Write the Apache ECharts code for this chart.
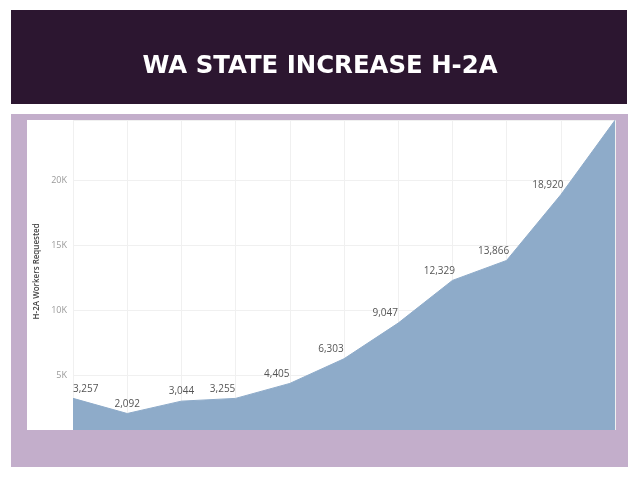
<!DOCTYPE html>
<html>
<head>
<meta charset="utf-8">
<script src="https://cdn.jsdelivr.net/npm/echarts@6/dist/echarts.min.js"></script>
<style>
html,body{margin:0;padding:0;background:#ffffff;}
#chart{width:640px;height:480px;}
</style>
</head>
<body>
<div id="chart"></div>
<script>
var titleText = 'WA STATE INCREASE H-2A';
var yAxisName = 'H-2A Workers Requested';
var categories = ['2008','2009','2010','2011','2012','2013','2014','2015','2016','2017','2018'];
var workersRequested = [3257, 2092, 3044, 3255, 4405, 6303, 9047, 12329, 13866, 18920, 24650];
var showLabel = [true, true, true, true, true, true, true, true, true, true, false];

var chart = echarts.init(document.getElementById('chart'), null, {renderer: 'canvas'});

var seriesData = workersRequested.map(function (v, i) {
  var item = {value: v};
  if (!showLabel[i]) {
    item.label = {show: false};
  } else if (i === 0) {
    item.label = {show: true, align: 'left', offset: [0, 0]};
  } else if (i >= 3) {
    item.label = {show: true, offset: [-13, 0]};
  }
  return item;
});

chart.setOption({
  animation: false,
  title: {
    text: titleText,
    left: 'center',
    top: 50,
    textStyle: {
      color: '#ffffff',
      fontFamily: 'DejaVu Sans',
      fontWeight: 'bold',
      fontSize: 24.4
    }
  },
  graphic: [
    {type: 'rect', z: -10, shape: {x: 11, y: 10, width: 616, height: 94}, style: {fill: '#2c1630'}},
    {type: 'rect', z: -10, shape: {x: 11, y: 114, width: 617, height: 353}, style: {fill: '#c3aecb'}},
    {type: 'rect', z: -9, shape: {x: 27, y: 120, width: 588, height: 310}, style: {fill: '#ffffff'}},
    {type: 'rect', z: 100, shape: {x: 11, y: 430, width: 617, height: 37}, style: {fill: '#c3aecb'}}
  ],
  grid: {left: 73, right: 25, top: 120, bottom: 39.3},
  xAxis: {
    type: 'category',
    data: categories,
    boundaryGap: false,
    axisLine: {show: false},
    axisTick: {show: false},
    axisLabel: {show: false},
    splitLine: {show: true, lineStyle: {color: '#f0f0f0', width: 1}}
  },
  yAxis: {
    type: 'value',
    min: 0,
    max: 24670,
    interval: 5000,
    name: yAxisName,
    nameLocation: 'middle',
    nameGap: 9,
    nameTextStyle: {color: '#444444', fontSize: 8, fontFamily: 'Open Sans', fontWeight: 600, padding: [0, 0, 0, 18]},
    axisLine: {show: false},
    axisTick: {show: false},
    axisLabel: {
      color: '#9a9a9a',
      fontSize: 9,
      fontFamily: 'Open Sans',
      margin: 6,
      showMaxLabel: false,
      formatter: function (v) { return (v === 0 || v % 5000 !== 0) ? '' : (v / 1000) + 'K'; }
    },
    splitLine: {show: true, lineStyle: {color: '#f0f0f0', width: 1}}
  },
  series: [{
    type: 'line',
    data: seriesData,
    symbol: 'circle',
    symbolSize: 1,
    showSymbol: true,
    itemStyle: {color: 'rgba(0,0,0,0)'},
    lineStyle: {color: '#8eabc9', width: 1},
    areaStyle: {color: '#8eabc9', opacity: 1},
    label: {
      show: true,
      position: 'top',
      distance: 4,
      color: '#555555',
      fontSize: 10,
      fontFamily: 'Open Sans',
      formatter: function (p) { return Number(p.value).toLocaleString('en-US'); }
    }
  }]
});
</script>
</body>
</html>
